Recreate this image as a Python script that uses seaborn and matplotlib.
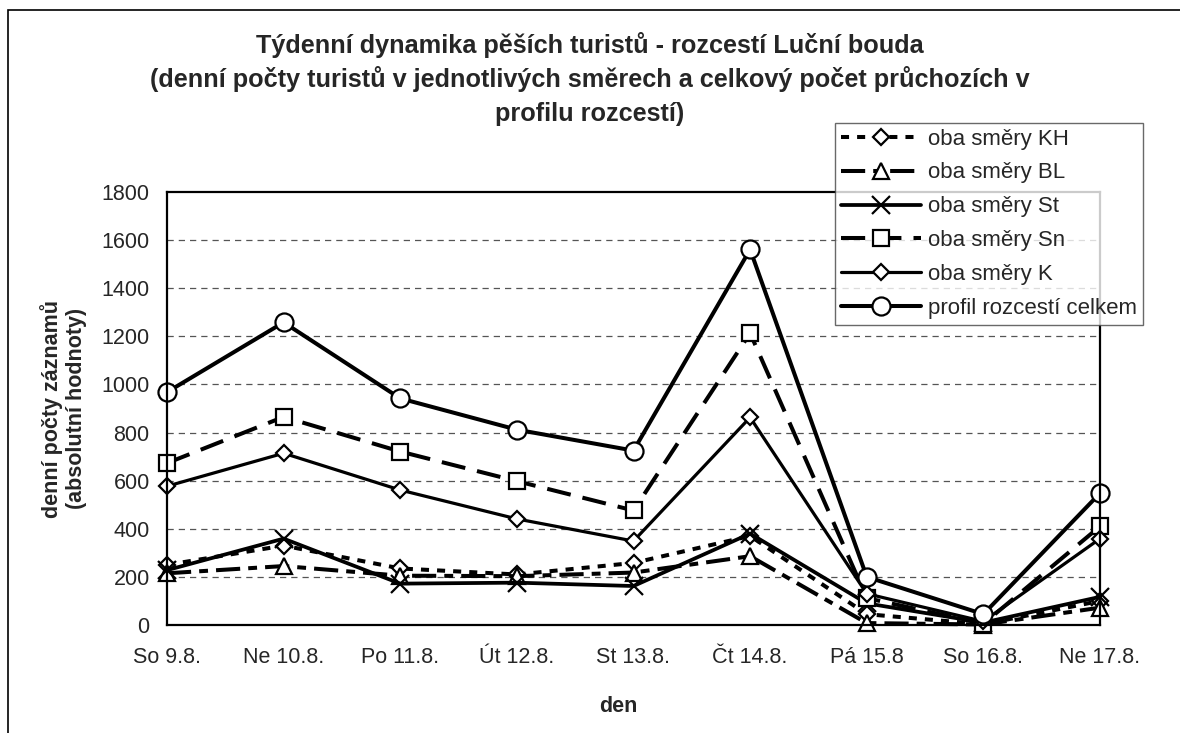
import pandas as pd
import seaborn as sns
import matplotlib.pyplot as plt
from matplotlib.patches import Rectangle

# data
dny = ["So 9.8.", "Ne 10.8.", "Po 11.8.", "Út 12.8.", "St 13.8.", "Čt 14.8.",
       "Pá 15.8", "So 16.8.", "Ne 17.8."]
smer_KH = [250, 330, 235, 210, 258, 370, 45, 3, 100]
smer_BL = [215, 245, 205, 203, 218, 286, 8, 2, 72]
smer_St = [228, 359, 172, 176, 162, 380, 90, 10, 117]
smer_Sn = [673, 865, 721, 598, 476, 1213, 112, 5, 410]
smer_K = [577, 714, 561, 441, 349, 863, 130, 15, 359]
celkem = [968, 1258, 942, 812, 725, 1561, 200, 45, 548]

nazvy = ["oba směry KH", "oba směry BL", "oba směry St", "oba směry Sn",
         "oba směry K", "profil rozcestí celkem"]
serie = [smer_KH, smer_BL, smer_St, smer_Sn, smer_K, celkem]

# styl kazde rady: (dashes, marker, markersize, linewidth)
styly = [
    ((0, (2, 2)), "D", 8.5, 2.9),
    ((0, (6, 2, 2.2, 2)), "^", 11.5, 2.9),
    ("-", "x", 13, 2.7),
    ((0, (6, 3)), "s", 11.5, 2.9),
    ("-", "D", 8.5, 2.3),
    ("-", "o", 13, 2.9),
]

sns.set_style("white")
plt.rcParams["font.family"] = ["Liberation Sans", "DejaVu Sans"]

df = pd.DataFrame({"den": list(range(len(dny))) * len(serie),
                   "pocet": sum(serie, []),
                   "rada": sum([[n] * len(dny) for n in nazvy], [])})

fig = plt.figure(figsize=(11.8, 7.33), dpi=100)
ax = fig.add_axes([167 / 1180, 1 - 625 / 733, (1100 - 167) / 1180, (625 - 192) / 733])

for nazev, (ls, mk, ms, lw) in zip(nazvy, styly):
    sns.lineplot(data=df[df["rada"] == nazev], x="den", y="pocet", ax=ax,
                 color="black", linestyle=ls, linewidth=lw, marker=mk,
                 markersize=ms, markerfacecolor="white", markeredgecolor="black",
                 markeredgewidth=1.6, label=nazev, legend=False, clip_on=False)

ax.set_xlim(0, len(dny) - 1)
ax.set_ylim(0, 1800)
ax.set_yticks(range(0, 1801, 200))
ax.set_xticks(range(len(dny)))
ax.set_xticklabels(dny)
ax.tick_params(axis="both", labelsize=15.5, direction="inout", length=8, width=1.2, color="black")
ax.tick_params(axis="x", pad=12)
ax.tick_params(axis="y", pad=8.5)
for y in range(200, 1800, 200):
    ax.axhline(y, color="#555555", linestyle=(0, (5, 4)), linewidth=0.9, zorder=0)
for s in ax.spines.values():
    s.set_color("black")
    s.set_linewidth(1.6)
    s.set_visible(True)

ax.set_xlabel("den", fontsize=15.5, fontweight="bold")
ax.xaxis.set_label_coords((618 - 167) / 933, -0.163)
ax.set_ylabel("denní počty záznamů\n(absolutní hodnoty)", fontsize=15.5,
              fontweight="bold")
ax.yaxis.set_label_coords(-0.0857, 0.5)

titulek = ["Týdenní dynamika pěších turistů - rozcestí Luční bouda",
           "(denní počty turistů v jednotlivých směrech a celkový počet průchozích v",
           "profilu rozcestí)"]
for i, radek in enumerate(titulek):
    fig.text(0.5, 1 - (45 + 34.5 * i) / 733, radek, ha="center", va="center",
             fontsize=18.2, fontweight="bold")

h, l = ax.get_legend_handles_labels()
leg = fig.legend(h, l, loc="upper left", bbox_to_anchor=(835 / 1180, 1 - 123 / 733),
                 fontsize=16, handlelength=3.6, handletextpad=0.35, labelspacing=0.58,
                 borderpad=0.25, borderaxespad=0, frameon=True, fancybox=False,
                 numpoints=1)
leg.get_frame().set_edgecolor("#444444")
leg.get_frame().set_linewidth(1.0)

# ramecek grafu
fig.add_artist(Rectangle((8 / 1180, -0.5), 2, 0.5 + 1 - 10 / 733, fill=False,
                         edgecolor="black", linewidth=1.2, transform=fig.transFigure,
                         clip_on=False))

fig.savefig("out.png", dpi=100)
